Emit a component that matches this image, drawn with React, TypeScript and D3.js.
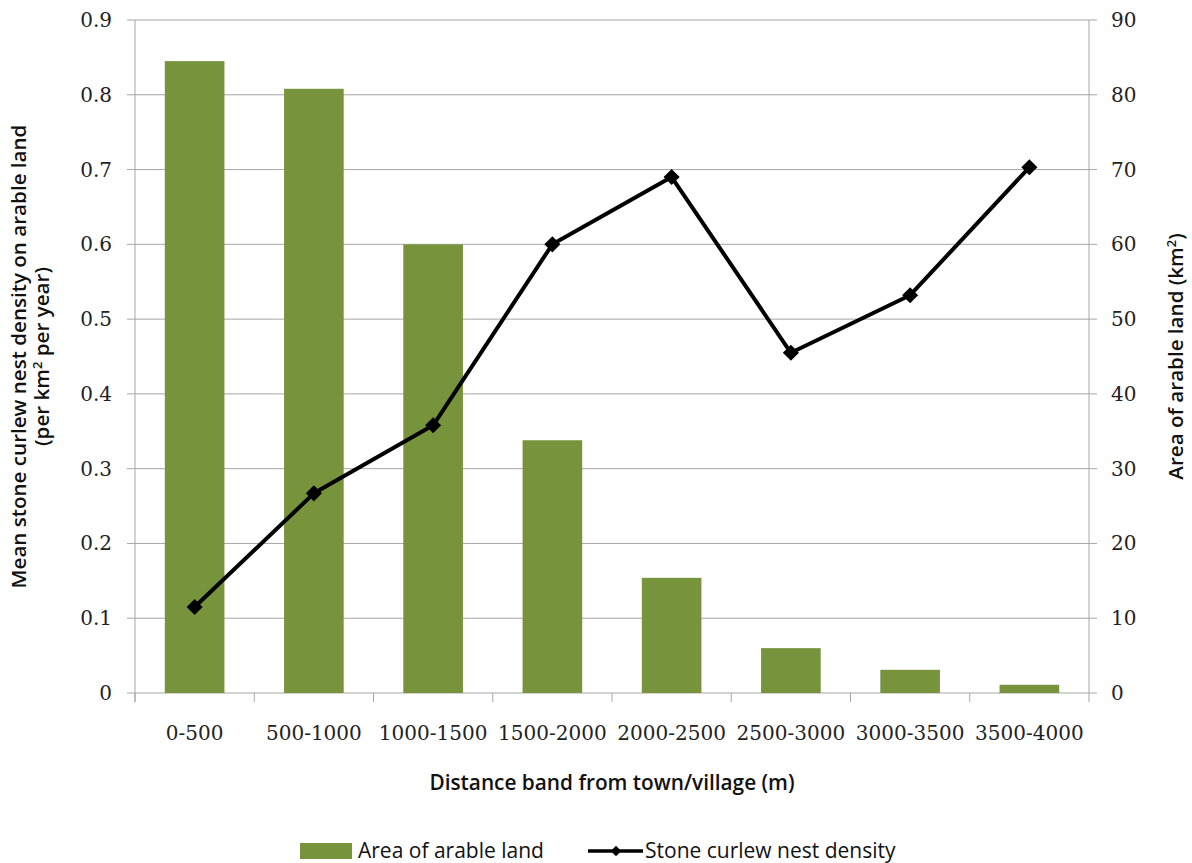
import * as d3 from 'd3'
import React from 'react'

const bands = ['0-500', '500-1000', '1000-1500', '1500-2000', '2000-2500', '2500-3000', '3000-3500', '3500-4000']
const arableArea = [84.5, 80.8, 60.0, 33.8, 15.4, 6.0, 3.1, 1.1]
const nestDensity = [0.115, 0.267, 0.358, 0.6, 0.69, 0.455, 0.532, 0.703]
const leftTicks = [0, 0.1, 0.2, 0.3, 0.4, 0.5, 0.6, 0.7, 0.8, 0.9]
const rightTicks = [0, 10, 20, 30, 40, 50, 60, 70, 80, 90]

const W = 1192, H = 863
const M = { left: 135, right: 1089, top: 20, bottom: 693 }
const green = '#77933C'
const grid = '#a6a6a6'
const serif = "'DejaVu Serif', serif"
const sans = "'Open Sans', sans-serif"

export default function App() {
  const
    x = d3.scaleBand<string>().domain(bands).range([M.left, M.right]).paddingInner(0.5).paddingOuter(0.25),
    xb = d3.scaleBand<string>().domain(bands).range([M.left, M.right]),
    yL = d3.scaleLinear().domain([0, 0.9]).range([M.bottom, M.top]),
    yR = d3.scaleLinear().domain([0, 90]).range([M.bottom, M.top]),
    cx = (b: string) => (xb(b) as number) + xb.bandwidth() / 2,
    line = d3.line<number>().x((_, i) => cx(bands[i])).y(d => yL(d)),
    diamond = d3.symbol().type(d3.symbolDiamond2).size(165),
    midY = (M.top + M.bottom) / 2

  return (
    <svg width={W} height={H} style={{ position: 'absolute', left: 0, top: 0 }}>
      <rect width={W} height={H} fill='white' />
      {leftTicks.map(t => (
        <g key={t}>
          <line x1={M.left - 8} x2={M.right + 8} y1={yL(t)} y2={yL(t)} stroke={grid} strokeWidth={1} />
          <text x={112} y={yL(t)} dy='0.35em' textAnchor='end' fontFamily={serif} fontSize={20} fill='#222'>{t === 0 ? '0' : t.toFixed(1)}</text>
        </g>
      ))}
      {rightTicks.map(t => (
        <text key={t} x={1111} y={yR(t)} dy='0.35em' fontFamily={serif} fontSize={20} fill='#222'>{t}</text>
      ))}
      <line x1={M.left} x2={M.left} y1={M.top} y2={M.bottom + 9} stroke={grid} />
      <line x1={M.right} x2={M.right} y1={M.top} y2={M.bottom + 9} stroke={grid} />
      {bands.map(b => (
        <line key={b} x1={xb(b)} x2={xb(b)} y1={M.bottom} y2={M.bottom + 9} stroke={grid} />
      ))}
      {bands.map((b, i) => (
        <rect key={b} x={x(b)} width={x.bandwidth()} y={yR(arableArea[i])} height={M.bottom - yR(arableArea[i])} fill={green} />
      ))}
      <path d={line(nestDensity) as string} fill='none' stroke='black' strokeWidth={4} strokeLinejoin='round' />
      {nestDensity.map((d, i) => (
        <path key={i} d={diamond() as string} transform={`translate(${cx(bands[i])},${yL(d)})`} fill='black' />
      ))}
      {bands.map(b => (
        <text key={b} x={cx(b)} y={733} dy='0.35em' textAnchor='middle' fontFamily={serif} fontSize={20} fill='#222'>{b}</text>
      ))}
      <text x={(M.left + M.right) / 2} y={783} dy='0.35em' textAnchor='middle' fontFamily={sans} fontSize={20.8} fontWeight={600} fill='#111'>Distance band from town/village (m)</text>
      <g transform={`translate(19,${midY}) rotate(-90)`}>
        <text textAnchor='middle' dy='0.35em' fontFamily={sans} fontSize={20.6} fontWeight={600} fill='#111'>Mean stone curlew nest density on arable land</text>
      </g>
      <g transform={`translate(42,${midY}) rotate(-90)`}>
        <text textAnchor='middle' dy='0.35em' fontFamily={sans} fontSize={20.6} fontWeight={600} fill='#111'>(per km<tspan fontSize={13} dy='-7'>2</tspan><tspan dy='7'> per year)</tspan></text>
      </g>
      <g transform={`translate(1176,${midY}) rotate(-90)`}>
        <text textAnchor='middle' dy='0.35em' fontFamily={sans} fontSize={20.6} fontWeight={600} fill='#111'>Area of arable land (km<tspan fontSize={13} dy='-7'>2</tspan><tspan dy='7'>)</tspan></text>
      </g>
      <rect x={300} y={843} width={52} height={16} fill={green} />
      <text x={358} y={851} dy='0.35em' fontFamily={sans} fontSize={21} fill='#111'>Area of arable land</text>
      <line x1={588} x2={643} y1={851} y2={851} stroke='black' strokeWidth={3.5} />
      <path d={d3.symbol().type(d3.symbolDiamond2).size(70)() as string} transform='translate(616,851)' fill='black' />
      <text x={645} y={851} dy='0.35em' fontFamily={sans} fontSize={21} fill='#111'>Stone curlew nest density</text>
    </svg>
  )
}
